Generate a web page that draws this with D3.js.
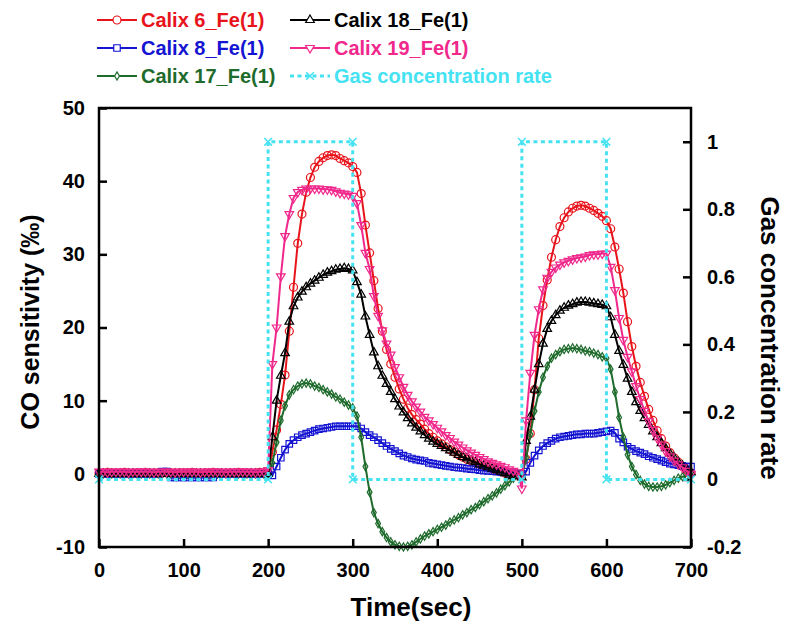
<!DOCTYPE html>
<html>
<head>
<meta charset="utf-8">
<script src="https://cdn.jsdelivr.net/npm/d3@7"></script>
<style>
  html, body { margin: 0; padding: 0; background: #fff; }
  svg { display: block; }
  text { font-family: "Liberation Sans", Arial, sans-serif; font-weight: bold; }
</style>
</head>
<body>
<svg id="chart" width="787" height="622"></svg>
<script>
// Sampling times (s)
const time = [0,5,10,15,20,25,30,35,40,45,50,55,60,65,70,75,80,85,90,95,
  100,105,110,115,120,125,130,135,140,145,150,155,160,165,170,175,180,185,190,195,
  200,205,210,215,220,225,230,235,240,245,250,255,260,265,270,275,280,285,290,295,
  300,305,310,315,320,325,330,335,340,345,350,355,360,365,370,375,380,385,390,395,
  400,405,410,415,420,425,430,435,440,445,450,455,460,465,470,475,480,485,490,495,
  500,505,510,515,520,525,530,535,540,545,550,555,560,565,570,575,580,585,590,595,
  600,605,610,615,620,625,630,635,640,645,650,655,660,665,670,675,680,685,690,695,700];

// CO sensitivity (‰) per sensor, one value per sampling time
const calix6 = [0.1,0.1,0.2,0.1,0.1,0.1,0.2,0.1,0.1,0.1, 0.1,0.2,0.1,0.1,0.1,0.1,0.2,0.1,0.1,0.1,
  0.1,0.1,0.2,0.1,0.1,0.1,0.1,0.2,0.1,0.1, 0.1,0.1,0.1,0.2,0.1,0.1,0.1,0.1,0.2,0.1,
  0.2,3.0,6.0,9.5,13.5,19.5,25.5,31.5,35.5,38.5, 40.5,41.9,42.7,43.2,43.5,43.6,43.5,43.1,42.8,42.5,
  42.0,41.2,38.3,34.0,30.2,26.4,22.6,19.5,17.0,15.0, 13.2,11.6,10.2,9.0,8.1,7.4,6.8,6.1,5.5,5.0,
  4.5,4.1,3.7,3.3,3.0,2.6,2.3,2.0,1.8,1.5, 1.3,1.1,0.9,0.7,0.5,0.3,0.1,-0.1,-0.3,-0.2,
  0.0,2.0,5.5,11.5,18.5,23.0,26.5,29.6,32.0,33.8, 35.0,35.8,36.3,36.6,36.7,36.6,36.3,36.0,35.6,35.2,
  34.6,33.5,31.0,28.0,24.7,20.8,17.4,14.7,12.5,10.6, 8.8,7.3,5.9,4.8,3.8,2.9,2.2,1.6,1.0,0.5,0.1];

const calix8 = [0.0,0.0,0.0,0.0,0.0,0.0,0.0,0.0,0.0,0.0, 0.0,0.0,0.0,0.0,0.0,0.3,0.3,-0.5,-0.5,-0.5,
  -0.5,-0.5,-0.5,-0.5,-0.5,-0.5,-0.5,-0.5,0.0,0.0, 0.0,0.0,0.0,0.0,0.0,0.0,0.0,0.0,0.0,0.0,
  0.0,-0.2,1.0,2.2,3.3,4.1,4.6,5.0,5.3,5.5, 5.7,5.9,6.1,6.2,6.3,6.4,6.5,6.5,6.5,6.5,
  6.5,6.5,6.2,5.7,5.3,5.0,4.6,4.2,3.8,3.4, 3.1,2.8,2.5,2.3,2.1,1.95,1.85,1.75,1.5,1.4,
  1.3,1.2,1.1,1.0,0.9,0.85,0.8,0.7,0.65,0.6, 0.5,0.45,0.4,0.35,0.3,0.25,0.2,0.15,0.1,0.05,
  0.0,0.3,1.5,2.5,3.2,3.8,4.2,4.5,4.8,5.0, 5.1,5.2,5.3,5.4,5.4,5.5,5.5,5.5,5.6,5.7,
  5.8,5.9,5.6,4.8,4.3,3.7,3.4,3.1,2.9,2.7, 2.4,2.2,2.0,1.8,1.6,1.4,1.3,1.2,1.1,1.0,1.0];

const calix17 = [0.0,0.0,0.0,0.0,0.0,0.0,0.0,0.0,0.0,0.0, 0.0,0.0,0.0,0.0,0.0,0.0,0.0,0.0,0.0,0.0,
  0.0,0.0,0.0,0.0,0.0,0.0,0.0,0.0,0.0,0.0, 0.0,0.0,0.0,0.0,0.0,0.0,0.0,0.0,0.0,0.0,
  0.0,1.5,4.3,7.3,9.3,10.8,11.5,12.0,12.3,12.4, 12.3,12.0,11.8,11.5,11.2,10.9,10.5,10.2,9.8,9.4,
  9.0,7.9,5.0,1.0,-2.5,-5.3,-6.8,-7.9,-8.7,-9.3, -9.7,-9.9,-10.0,-9.9,-9.7,-9.3,-8.9,-8.5,-8.2,-7.9,
  -7.6,-7.3,-7.0,-6.6,-6.3,-6.0,-5.6,-5.3,-4.9,-4.6, -4.2,-3.8,-3.4,-3.0,-2.6,-2.1,-1.6,-1.1,-0.6,-0.2,
  -0.3,2.2,5.4,8.6,11.2,13.2,14.7,15.8,16.3,16.7, 17.0,17.1,17.2,17.1,17.0,16.8,16.7,16.5,16.3,16.0,
  15.8,14.3,11.2,7.7,5.0,2.6,1.0,-0.1,-0.9,-1.4, -1.7,-1.8,-1.8,-1.7,-1.5,-1.2,-0.9,-0.6,-0.4,-0.3,-0.2];

const calix18 = [0.0,0.0,0.0,0.0,0.0,0.0,0.0,0.0,0.0,0.0, 0.0,0.0,0.0,0.0,0.0,0.0,0.0,0.0,0.0,0.0,
  0.0,0.0,0.0,0.0,0.0,0.0,0.0,0.0,0.0,0.0, 0.0,0.0,0.0,0.0,0.0,0.0,0.0,0.0,0.0,0.0,
  0.0,5.0,10.0,13.4,16.5,20.8,22.9,24.1,24.9,25.5, 26.0,26.4,26.8,27.2,27.5,27.7,27.9,28.0,28.1,28.0,
  27.8,26.2,24.5,21.5,19.0,16.6,14.7,13.4,12.3,11.2, 10.2,9.2,8.4,7.6,6.9,6.3,5.8,5.3,4.8,4.4,
  4.1,3.8,3.5,3.2,2.9,2.6,2.3,2.1,1.8,1.6, 1.3,1.1,0.9,0.7,0.5,0.3,0.1,-0.1,-0.3,-0.3,
  -0.5,4.5,7.8,11.5,15.0,17.8,19.8,20.9,21.7,22.3, 22.7,23.0,23.2,23.4,23.5,23.5,23.4,23.3,23.2,23.1,
  22.9,21.4,19.0,16.8,14.9,13.0,11.2,9.8,8.6,7.6, 6.7,5.8,5.0,4.2,3.5,2.8,2.2,1.6,1.1,0.6,0.2];

const calix19 = [0.3,0.3,0.2,0.3,0.3,0.3,0.3,0.2,0.3,0.3, 0.3,0.3,0.3,0.2,0.3,0.3,0.3,0.3,0.2,0.3,
  0.3,0.3,0.3,0.3,0.2,0.3,0.3,0.3,0.3,0.3, 0.2,0.3,0.3,0.3,0.3,0.3,0.3,0.2,0.3,0.3,
  0.5,15.0,20.0,27.0,32.5,35.5,37.7,38.5,38.8,39.0, 39.0,39.0,39.0,38.9,38.9,38.8,38.6,38.4,38.3,38.2,
  38.0,37.0,34.0,30.2,28.0,24.3,21.6,19.6,17.8,16.3, 14.6,13.2,11.9,10.8,9.9,9.2,8.5,7.8,7.3,6.8,
  6.3,5.8,5.3,4.9,4.4,4.0,3.6,3.2,2.9,2.6, 2.3,2.0,1.7,1.5,1.3,1.1,0.9,0.6,0.4,0.2,
  -2.0,7.3,13.8,19.0,22.5,25.2,26.8,27.6,28.2,28.6, 28.9,29.1,29.3,29.5,29.6,29.7,29.9,30.0,30.0,30.1,
  30.1,28.3,25.1,21.3,18.3,16.0,14.0,12.0,10.2,8.6, 7.2,6.0,4.9,4.0,3.1,2.4,1.8,1.3,0.9,0.4,0.0];

// Gas concentration rate (right axis), stepped on/off
const gasTime = [0,200,200,300,300,500,500,600,600,700];
const gasRate = [0,0,1,1,0,0,1,1,0,0];

// Axis tick values
const xTicks = [0,100,200,300,400,500,600,700];
const yTicks = [-10,0,10,20,30,40,50];
const y2Ticks = [-0.2,0,0.2,0.4,0.6,0.8,1];

const series = [
  { name: "Calix 6_Fe(1)",  values: calix6,  color: "#e8141c", symbol: d3.symbolCircle,   size: 50, rot: 0 },
  { name: "Calix 8_Fe(1)",  values: calix8,  color: "#1414d2", symbol: d3.symbolSquare,   size: 42, rot: 0 },
  { name: "Calix 17_Fe(1)", values: calix17, color: "#1e6b2c", symbol: d3.symbolDiamond,  size: 20, rot: 0 },
  { name: "Calix 18_Fe(1)", values: calix18, color: "#000000", symbol: d3.symbolTriangle, size: 32, rot: 0 },
  { name: "Calix 19_Fe(1)", values: calix19, color: "#f0288c", symbol: d3.symbolTriangle, size: 32, rot: 180 }
];
const gasColor = "#45e2f2";

const svg = d3.select("#chart");
const L = 99, R = 691, T = 108, B = 547;

const x = d3.scaleLinear().domain([0, 700]).range([L, R]);
const y = d3.scaleLinear().domain([-10, 50]).range([B, T]);
const y2 = d3.scaleLinear().domain([-0.2, 1.1]).range([B, T]);

const fmt = d => String(Math.round(d * 10) / 10);

// Axes with inward ticks
function styleAxis(g) {
  g.select(".domain").remove();
  g.selectAll(".tick line").attr("stroke", "#000").attr("stroke-width", 2.5);
  g.selectAll(".tick text").attr("fill", "#000").style("font-size", "20px")
    .style("font-family", "'Liberation Sans', Arial, sans-serif").style("font-weight", "bold");
}
svg.append("g").attr("transform", `translate(${L},0)`)
  .call(d3.axisLeft(y).tickValues(yTicks).tickSize(-8).tickPadding(14).tickFormat(fmt))
  .call(styleAxis);
svg.append("g").attr("transform", `translate(${R},0)`)
  .call(d3.axisRight(y2).tickValues(y2Ticks).tickSize(-8).tickPadding(16).tickFormat(fmt))
  .call(styleAxis);
svg.append("g").attr("transform", `translate(0,${B})`)
  .call(d3.axisBottom(x).tickValues(xTicks).tickSize(-8).tickPadding(16).tickFormat(fmt))
  .call(styleAxis);

// Data
const plot = svg.append("g");
series.forEach(s => {
  const pts = time.map((t, i) => [t, s.values[i]]);
  plot.append("path")
    .datum(pts)
    .attr("fill", "none")
    .attr("stroke", s.color)
    .attr("stroke-width", 2)
    .attr("d", d3.line().x(d => x(d[0])).y(d => y(d[1])));
  const sym = d3.symbol().type(s.symbol).size(s.size);
  plot.append("g").selectAll("path")
    .data(pts)
    .join("path")
    .attr("d", sym)
    .attr("transform", d => `translate(${x(d[0])},${y(d[1])}) rotate(${s.rot})`)
    .attr("fill", "none")
    .attr("stroke", s.color)
    .attr("stroke-width", 1.2);
});

// Gas concentration rate
const gasPts = gasTime.map((t, i) => [t, gasRate[i]]);
plot.append("path")
  .datum(gasPts)
  .attr("fill", "none")
  .attr("stroke", gasColor)
  .attr("stroke-width", 3)
  .attr("stroke-dasharray", "4,3.5")
  .attr("d", d3.line().x(d => x(d[0])).y(d => y2(d[1])));
plot.append("g").selectAll("path")
  .data(gasPts)
  .join("path")
  .attr("d", d3.symbol().type(d3.symbolX).size(40))
  .attr("transform", d => `translate(${x(d[0])},${y2(d[1])})`)
  .attr("fill", "none")
  .attr("stroke", gasColor)
  .attr("stroke-width", 1.5);

// Frame
svg.append("rect")
  .attr("x", L).attr("y", T).attr("width", R - L).attr("height", B - T)
  .attr("fill", "none").attr("stroke", "#000").attr("stroke-width", 2.5);

// Axis titles
svg.append("text")
  .attr("transform", `translate(30,322) rotate(-90)`)
  .attr("text-anchor", "middle").attr("dy", "0.35em")
  .style("font-size", "25px").text("CO sensitivity (‰)");
svg.append("text")
  .attr("transform", `translate(770,338) rotate(90)`)
  .attr("text-anchor", "middle").attr("dy", "0.35em")
  .style("font-size", "26px").text("Gas concentration rate");
svg.append("text")
  .attr("x", 411).attr("y", 607)
  .attr("text-anchor", "middle").attr("dy", "0.35em")
  .style("font-size", "26px").text("Time(sec)");

// Legend
const legendItems = [
  { s: series[0], col: 0, row: 0 },
  { s: series[1], col: 0, row: 1 },
  { s: series[2], col: 0, row: 2 },
  { s: series[3], col: 1, row: 0 },
  { s: series[4], col: 1, row: 1 }
];
const colX = [97, 290], rowY = [20, 48, 76];
const legend = svg.append("g");
legendItems.forEach(({ s, col, row }) => {
  const lx = colX[col], ly = rowY[row];
  legend.append("line").attr("x1", lx).attr("x2", lx + 40).attr("y1", ly).attr("y2", ly)
    .attr("stroke", s.color).attr("stroke-width", 2);
  legend.append("path").attr("d", d3.symbol().type(s.symbol).size(s.size))
    .attr("transform", `translate(${lx + 20},${ly}) rotate(${s.rot})`)
    .attr("fill", "#fff").attr("stroke", s.color).attr("stroke-width", 1.2);
  legend.append("text").attr("x", lx + 44).attr("y", ly).attr("dy", "0.35em")
    .attr("fill", s.color).style("font-size", "20px").text(s.name);
});
{
  const lx = colX[1], ly = rowY[2];
  legend.append("line").attr("x1", lx).attr("x2", lx + 40).attr("y1", ly).attr("y2", ly)
    .attr("stroke", gasColor).attr("stroke-width", 3).attr("stroke-dasharray", "4,3.5");
  legend.append("path").attr("d", d3.symbol().type(d3.symbolX).size(40))
    .attr("transform", `translate(${lx + 20},${ly})`)
    .attr("fill", "none").attr("stroke", gasColor).attr("stroke-width", 1.5);
  legend.append("text").attr("x", lx + 44).attr("y", ly).attr("dy", "0.35em")
    .attr("fill", gasColor).style("font-size", "20px").text("Gas concentration rate");
}
</script>
</body>
</html>
